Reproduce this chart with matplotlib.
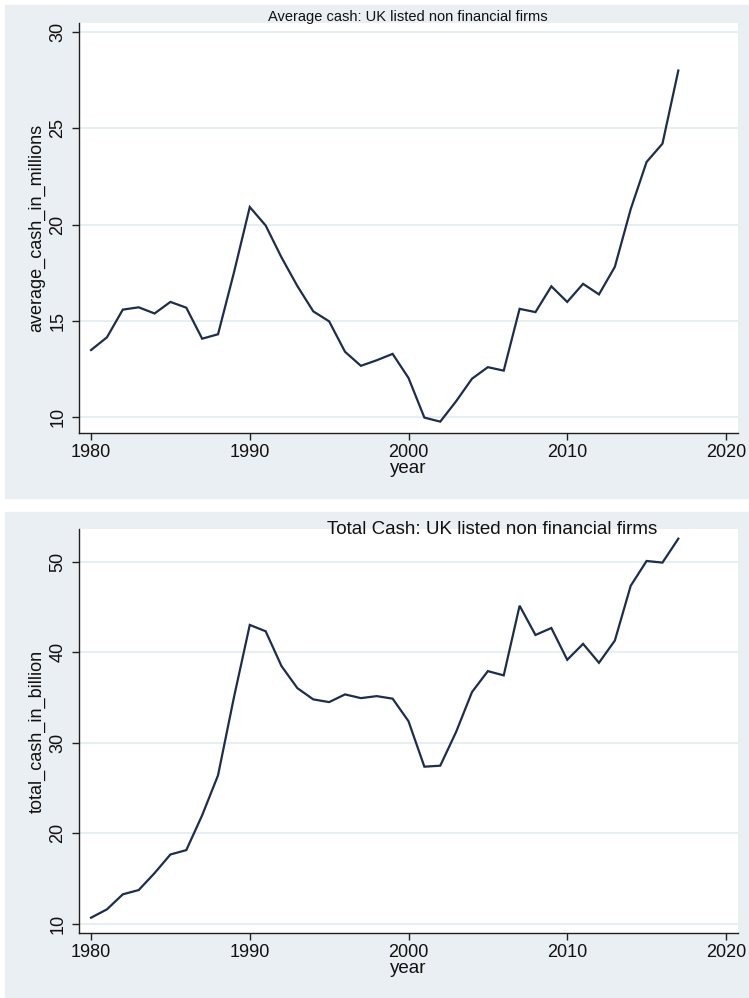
import numpy as np
import matplotlib
matplotlib.use("Agg")
from matplotlib import pyplot as plt
from matplotlib.patches import Rectangle

plt.rcParams['font.family'] = ['Liberation Sans', 'DejaVu Sans']

# years 1980-2017
years = list(range(1980, 2018))

# average cash, millions
avg_cash = [13.48, 14.14, 15.58, 15.70, 15.38, 15.98, 15.68, 14.07, 14.30, 17.5,
            20.91, 19.95, 18.29, 16.80, 15.49, 14.97, 13.39, 12.66, 12.95, 13.28,
            12.03, 9.97, 9.76, 10.82, 11.99, 12.59, 12.41, 15.62, 15.45, 16.79,
            15.98, 16.92, 16.37, 17.80, 20.8, 23.25, 24.20, 28.0]

# total cash, billion
total_cash = [10.69, 11.61, 13.27, 13.74, 15.61, 17.67, 18.15, 22.0, 26.41, 35.0,
              43.01, 42.31, 38.46, 36.03, 34.79, 34.49, 35.34, 34.93, 35.15, 34.87,
              32.38, 27.36, 27.47, 31.2, 35.6, 37.91, 37.44, 45.13, 41.9, 42.67,
              39.16, 40.92, 38.83, 41.28, 47.33, 50.07, 49.89, 52.53]

x_ticks = [1980, 1990, 2000, 2010, 2020]
top_yticks = [10, 15, 20, 25, 30]
bot_yticks = [10, 20, 30, 40, 50]

bg = '#e9eff2'
grid_col = '#e3edf0'
line_col = '#1d2d4c'

W, H = 749, 998
fig = plt.figure(figsize=(W / 100, H / 100), dpi=100, facecolor='white')

# stata style graph regions
fig.patches.append(Rectangle((5 / W, 1 - 498 / H), 744 / W, 493 / H,
                             transform=fig.transFigure, color=bg, zorder=-5))
fig.patches.append(Rectangle((5 / W, 0), 744 / W, 1 - 512 / H,
                             transform=fig.transFigure, color=bg, zorder=-5))


def setup(ax, yvals, yticks, ylim, ylabel):
    ax.set_zorder(2)
    ax.plot(years, yvals, color=line_col, lw=1.6, solid_joinstyle='miter')
    ax.set_xlim(1979.24, 2020.76)
    ax.set_ylim(*ylim)
    ax.set_xticks(x_ticks)
    ax.set_yticks(yticks)
    ax.grid(axis='y', color=grid_col, lw=1.3)
    ax.set_axisbelow(True)
    for s in ['top', 'right']:
        ax.spines[s].set_visible(False)
    for s in ['left', 'bottom']:
        ax.spines[s].set_color('#202020')
        ax.spines[s].set_linewidth(1.0)
    ax.tick_params(axis='both', length=5, width=1.0, color='#202020',
                   labelsize=13, labelcolor='#111111')
    ax.tick_params(axis='x', pad=3)
    ax.tick_params(axis='y', pad=4)
    for lab in ax.get_yticklabels():
        lab.set_rotation(90)
        lab.set_va('center')
    ax.set_xlabel('year', fontsize=13.5, labelpad=-1, color='#111111')
    ax.set_ylabel(ylabel, fontsize=13, labelpad=3, color='#111111')


ax1 = fig.add_axes([79 / W, 1 - 433 / H, 659 / W, 410 / H])
setup(ax1, avg_cash, top_yticks, (9.17, 30.47), 'average_cash_in_millions')

ax2 = fig.add_axes([79 / W, 1 - 933 / H, 659 / W, 404 / H])
setup(ax2, total_cash, bot_yticks, (9.0, 53.6), 'total_cash_in_billion')

fig.text(408 / W, 1 - 17 / H, 'Average cash: UK listed non financial firms',
         ha='center', va='center', fontsize=10.5, color='#111111')
fig.text(492 / W, 1 - 530 / H, 'Total Cash: UK listed non financial firms',
         ha='center', va='center', fontsize=13.5, color='#111111', zorder=5)

fig.savefig('out.png', dpi=100, facecolor='white')
